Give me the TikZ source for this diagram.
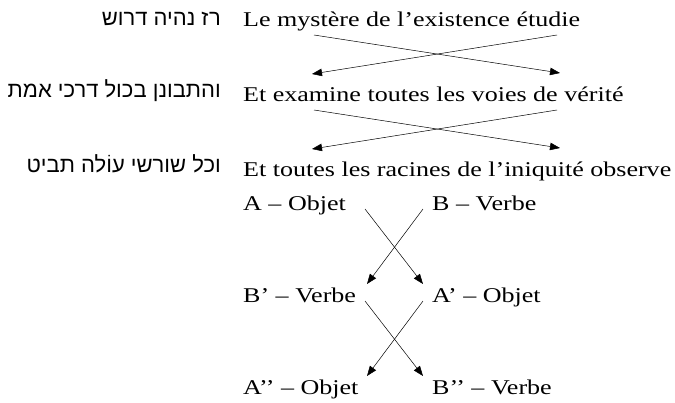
\documentclass[tikz,border=0pt]{standalone}
\usepackage{fontspec}
\setmainfont[FakeStretch=1.24]{Liberation Serif}
\newfontfamily\hebfont[Script=Hebrew]{Liberation Sans}
\TeXXeTstate=1
\usetikzlibrary{arrows.meta}

\begin{document}
\begin{tikzpicture}[x=1pt,y=-1pt,
    fr/.style={anchor=base west,inner sep=0pt,font=\fontsize{21}{25}\selectfont},
    he/.style={anchor=base east,inner sep=0pt,font=\fontsize{22}{26}\hebfont},
    arr/.style={-{Triangle[length=10pt,width=7.5pt]},line width=0.5pt}]
  \useasboundingbox (0,0) rectangle (675,402);
  % the three lines, Hebrew and French
  \node[he] (h1) at (221,25) {\beginR רז נהיה דרוש\endR};
  \node[he] (h2) at (221,97) {\beginR והתבונן בכול דרכי אמת\endR};
  \node[he] (h3) at (221,172) {\beginR וכל שורשי עוֹלה תביט\endR};
  \node[fr] (f1) at (243,26) {Le mystère de l’existence étudie};
  \node[fr] (f2) at (243,101) {Et examine toutes les voies de vérité};
  \node[fr] (f3) at (243,176) {Et toutes les racines de l’iniquité observe};
  \foreach \u/\w in {f1/f2,f2/f3}{
    \draw[arr] ([shift={(71,9)}]\u.base west) -- ([shift={(317,-28)}]\w.base west);
    \draw[arr] ([shift={(314,9)}]\u.base west) -- ([shift={(69,-27)}]\w.base west);
  }
  % chiasme
  \node[fr] (a) at (243,210) {A – Objet};
  \node[fr] (b) at (432,210) {B – Verbe};
  \node[fr] (bp) at (243,302) {B’ – Verbe};
  \node[fr] (ap) at (432,302) {A’ – Objet};
  \node[fr] (app) at (243,394) {A’’ – Objet};
  \node[fr] (bpp) at (432,394) {B’’ – Verbe};
  \foreach \l/\r/\ll/\rr in {a/b/bp/ap,bp/ap/app/bpp}{
    \draw[arr] ([shift={(122,-1)}]\l.base west) -- ([shift={(-9,-18)}]\rr.base west);
    \draw[arr] ([shift={(-9,-1)}]\r.base west) -- ([shift={(124,-18)}]\ll.base west);
  }
\end{tikzpicture}
\end{document}
